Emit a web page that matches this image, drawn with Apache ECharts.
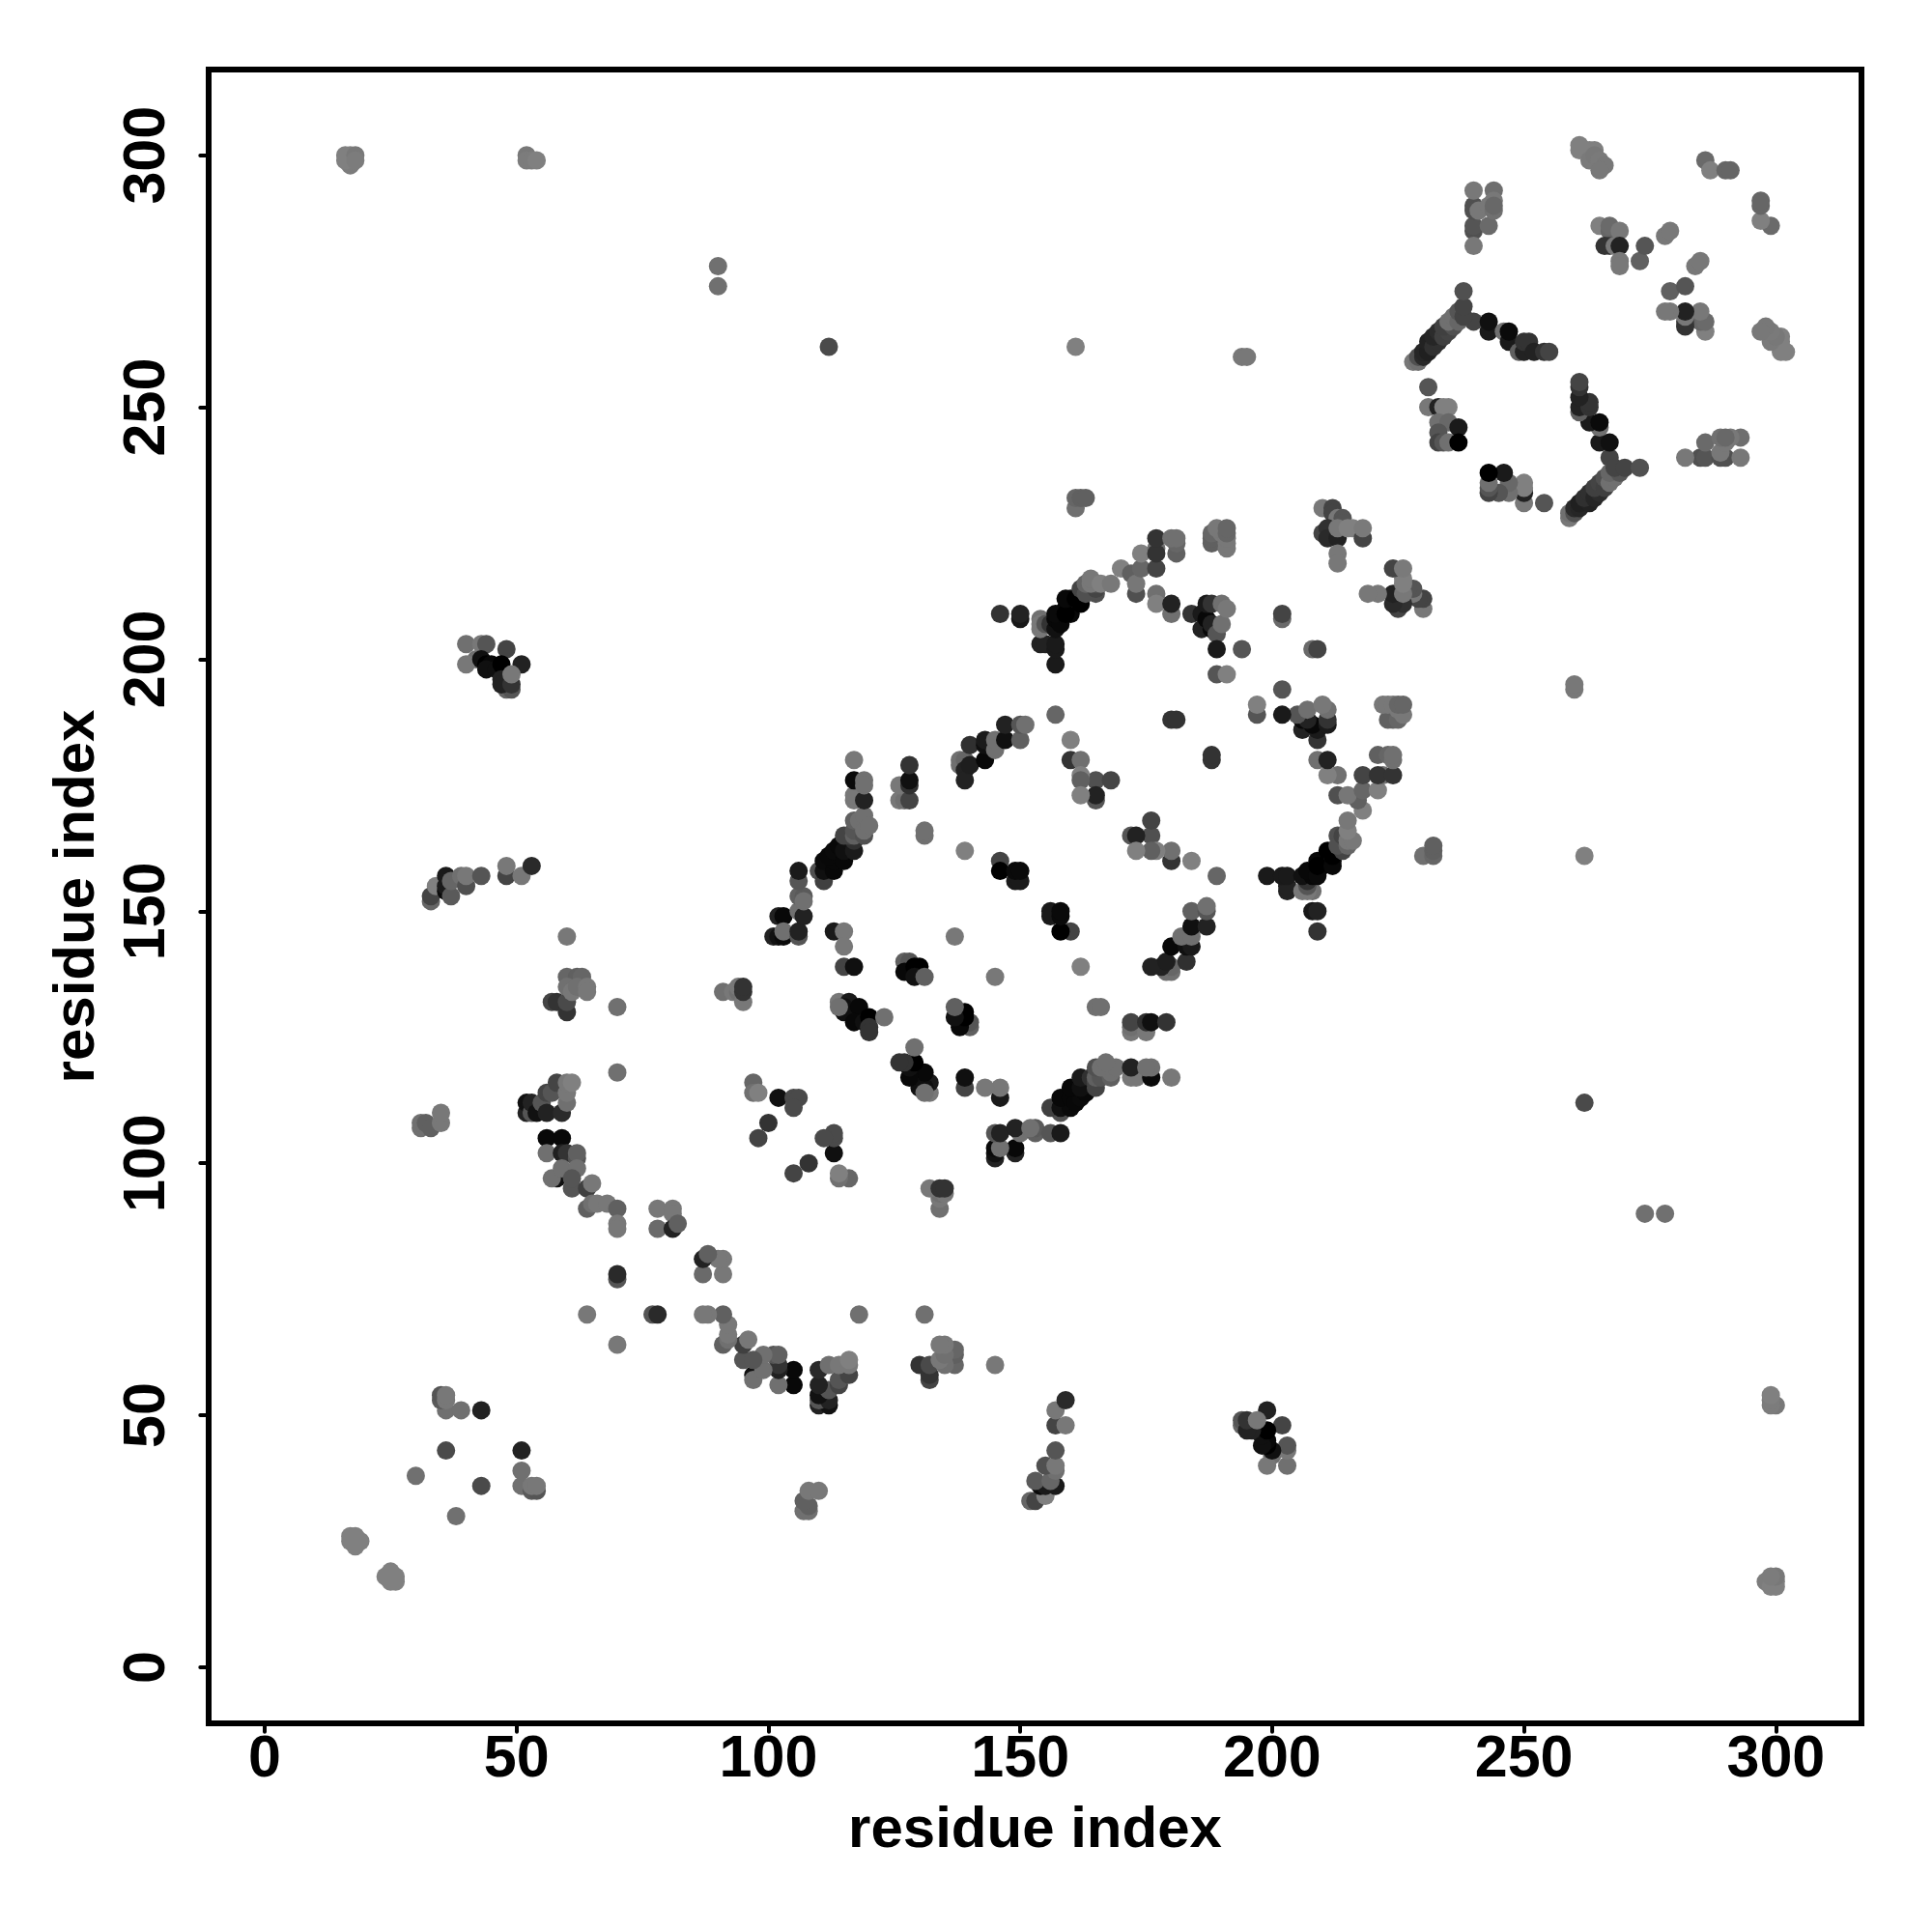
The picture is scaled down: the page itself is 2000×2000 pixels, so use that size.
<!DOCTYPE html>
<html>
<head>
<meta charset="utf-8">
<style>html,body{margin:0;padding:0;background:#fff}#c{width:2000px;height:2000px}</style>
<script src="https://cdn.jsdelivr.net/npm/echarts@6/dist/echarts.min.js"></script>
</head>
<body>
<div id="c"></div>
<script>
// Each contact: [residue i, residue j, grey level]. Read from the upper triangle of the symmetric map.
const tickValues = [0, 50, 100, 150, 200, 250, 300];
const axisTitle = 'residue index';

const distantContacts = [
[17,298,0x7c],[16,299,0x80],[16,300,0x80],[17,300,0x80],[18,300,0x78],[18,299,0x7c],
[52,300,0x78],[52,299,0x7c],[53,299,0x7c],[54,299,0x80],[90,278,0x70],[90,274,0x70],
[112,262,0x4a],[161,262,0x80],[194,260,0x78],[195,260,0x78],[161,230,0x70],[161,232,0x66],[162,232,0x60],[163,232,0x60]
];
const terminalContacts = [
[17,26,0x80],[18,26,0x80],[17,25,0x80],[19,25,0x80],[18,24,0x80],[30,38,0x70],[36,43,0x4a],[43,51,0x22],
[36,51,0x70],[39,51,0x70],[35,53,0x5a],[35,54,0x55],[36,53,0x78],[36,54,0x78],
[31,107,0x70],[31,108,0x70],[32,108,0x60],[33,107,0x60],[35,108,0x78],[35,110,0x78]
];
const clusterA = [
[33,152,0x66],[33,153,0x44],[34,155,0x80],[36,154,0x0a],[36,155,0x1a],[36,157,0x1a],[37,153,0x5a],[37,156,0x66],
[39,157,0x70],[40,155,0x50],[40,157,0x78],[43,157,0x55],[48,157,0x44],[48,159,0x78],[51,157,0x78],[53,159,0x2a],
[42,200,0x70],[40,203,0x70],[40,199,0x78],[43,203,0x78],[44,203,0x55],[48,202,0x44],[51,199,0x22],[43,200,0x10],
[44,199,0x00],[45,199,0x08],[44,198,0x10],[46,198,0x10],[47,199,0x00],[47,196,0x22],[48,194,0x66],[49,194,0x55],
[47,195,0x22],[49,195,0x33],[49,197,0x78]
];
const clusterB = [
[60,145,0x78],[57,132,0x44],[58,132,0x33],[60,130,0x33],[60,132,0x4a],[60,137,0x66],[62,137,0x60],[63,137,0x66],
[60,135,0x70],[61,134,0x78],[62,135,0x70],[64,135,0x78],[64,134,0x78],[70,131,0x70],[70,118,0x70]
];
const lowerArc = [
[52,110,0x22],[52,112,0x11],[53,110,0x55],[53,112,0x22],[54,110,0x11],[55,112,0x55],[56,110,0x22],[56,114,0x44],
[57,114,0x55],[58,116,0x44],[59,110,0x2a],[60,112,0x70],[60,114,0x78],[60,116,0x78],[61,116,0x80],
[56,105,0x08],[59,105,0x08],[56,102,0x70],[59,102,0x20],[60,102,0x33],[62,101,0x55],[62,102,0x60],[58,97,0x10],[57,97,0x70],
[59,99,0x70],[62,99,0x70],[61,95,0x55],[61,97,0x55],[64,95,0x40],[65,96,0x78],[64,91,0x60],[65,92,0x70],[66,92,0x78],
[68,92,0x78],[70,91,0x60],[70,88,0x78],[70,87,0x78],[70,77,0x55],[70,78,0x2a],[64,70,0x78],
[78,87,0x6a],[78,91,0x78],[81,91,0x78],[81,90,0x78],[81,87,0x22],[82,88,0x60]
];
const middleContacts = [
[91,134,0x70],[93,134,0x78],[94,134,0x70],[94,135,0x78],[95,132,0x78],[95,134,0x33],[95,135,0x33],[97,116,0x66],[97,114,0x70],
[98,114,0x80],[102,113,0x10],[105,113,0x4a],[106,113,0x4a],[105,111,0x4a],[100,108,0x33],[98,105,0x44]
];
const helixEdge = [
[101,145,0x22],[102,145,0x11],[103,145,0x0a],[102,149,0x22],[103,149,0x08],[103,146,0x70],[106,145,0x55],[106,146,0x22],
[106,150,0x70],[107,149,0x22],[106,153,0x60],[107,153,0x5a],[107,152,0x70],[106,156,0x55],[106,158,0x1a],
[110,158,0x50],[111,156,0x40],[111,158,0x10],[111,160,0x0a],[113,158,0x08],[113,160,0x08],[112,161,0x08],[113,162,0x0a],
[115,160,0x08],[114,163,0x08],[116,163,0x1a],[115,162,0x10],[117,162,0x1a],[117,164,0x30],[116,165,0x44],[115,165,0x44],
[117,165,0x60],[118,167,0x60],[117,166,0x55],[117,168,0x60],[119,165,0x50],[118,168,0x70],[119,169,0x70],[119,166,0x70],[120,167,0x70],
[117,172,0x78],[117,173,0x78],[119,172,0x22],[117,176,0x0a],[119,176,0x70],[119,175,0x70],[117,180,0x78],
[126,172,0x78],[127,172,0x70],[126,175,0x78],[128,172,0x44],[128,175,0x30],[128,176,0x10],[128,179,0x33],[131,165,0x70],[131,166,0x70],[139,162,0x80]
];
const upperEdge = [
[138,179,0x70],[138,180,0x70],[139,180,0x66],[139,178,0x22],[139,176,0x22],[140,179,0x1e],[140,183,0x30],[143,180,0x08],
[143,183,0x10],[143,184,0x1a],[145,182,0x70],[145,184,0x70],[147,184,0x10],[147,187,0x22],[150,184,0x60],[150,187,0x55],[151,187,0x70],
[137,145,0x78],[146,160,0x44],[146,158,0x00],[149,156,0x1a],[150,156,0x1a],[149,158,0x0a],[150,158,0x0a]
];
const innerRing = [
[114,132,0x78],[116,132,0x1a],[115,131,0x10],[115,130,0x10],[114,131,0x70],[118,131,0x08],[117,128,0x08],[119,128,0x10],
[120,129,0x00],[120,127,0x33],[120,126,0x33],[123,129,0x70],
[127,140,0x60],[128,140,0x55],[127,138,0x08],[129,139,0x00],[130,139,0x00],[129,137,0x11],[131,137,0x60],
[113,146,0x1a],[115,146,0x78],[115,143,0x78],[115,139,0x44],[117,139,0x10]
];
const outerArc = [
[157,199,0x1a],[154,203,0x22],[155,203,0x22],[157,202,0x1a],[157,203,0x1a],[146,209,0x33],[150,208,0x18],[150,209,0x22],
[154,206,0x78],[154,208,0x70],[154,207,0x78],[155,207,0x55],[156,207,0x33],[157,206,0x11],[157,208,0x08],[158,207,0x08],
[160,209,0x08],[159,210,0x00],[162,211,0x00],[160,212,0x1a],[157,209,0x0a],[159,209,0x00],[159,212,0x08],[161,212,0x00],
[162,214,0x44],[165,213,0x50],[163,213,0x50],[165,214,0x44],[163,215,0x66],[165,215,0x55],[164,215,0x78],[164,216,0x78],[166,215,0x80],[168,215,0x78],
[170,218,0x80],[172,217,0x60],[173,213,0x50],[173,215,0x77],[174,218,0x66],[174,221,0x80],[177,218,0x44],[177,213,0x70],[177,211,0x80],
[177,222,0x70],[177,221,0x33],[177,224,0x33],[180,209,0x70],[180,211,0x22],[184,209,0x33],
[181,221,0x60],[181,223,0x66],[180,224,0x70],[181,224,0x70],
[188,223,0x60],[188,224,0x60],[188,225,0x66],[190,225,0x78],[189,226,0x78],[191,222,0x78],[191,223,0x78],[191,224,0x78],[191,225,0x66],[191,226,0x66],
[186,209,0x1a],[186,206,0x22],[187,208,0x08],[187,211,0x1a],[188,206,0x08],[188,207,0x22],[188,211,0x33],[189,205,0x55],[190,207,0x70],[190,211,0x70],[191,210,0x78],
[189,202,0x1a],[194,202,0x55],[189,197,0x55],[191,197,0x80],[202,208,0x6a],[202,209,0x44],
[210,230,0x78],[212,230,0x44],[212,229,0x44],[213,228,0x78],[214,228,0x55],[214,227,0x55],[212,225,0x55],[210,225,0x44],[211,226,0x30],[211,224,0x2a],[213,224,0x22],
[213,226,0x78],[213,221,0x78],[213,219,0x78],[215,226,0x80],[216,226,0x80],[218,224,0x44],[218,226,0x7a]
];
const crossContacts = [
[160,184,0x80],[157,189,0x66],[160,180,0x33],[162,180,0x70],[165,176,0x50],[165,172,0x55],[165,173,0x22],[162,177,0x80],
[162,176,0x60],[162,173,0x80],[168,176,0x44],[180,188,0x33],[181,188,0x33]
];
const loopContacts = [
[231,254,0x55],[231,250,0x78],[233,250,0x22],[235,250,0x80],[234,250,0x80],[233,247,0x70],[235,247,0x68],[237,246,0x1a],
[233,245,0x55],[233,243,0x44],[234,243,0x55],[235,243,0x70],[237,243,0x00],
[240,267,0x44],[243,265,0x1a],[243,267,0x10],[246,265,0x70],[247,263,0x1a],[247,265,0x0a],[249,261,0x60],[250,261,0x22],
[250,263,0x33],[251,263,0x33],[252,261,0x22],[254,261,0x33],[255,261,0x44],
[228,259,0x78],[229,259,0x70],[229,260,0x50],[230,260,0x2a],[230,261,0x26],[231,261,0x20],[231,263,0x22],[232,262,0x30],
[233,263,0x30],[232,264,0x26],[233,265,0x2c],[234,264,0x40],[235,265,0x44],[234,266,0x40],
[236,266,0x50],[235,267,0x70],[236,268,0x70],[237,267,0x66],[237,269,0x55],[238,268,0x44],[238,270,0x44],[238,273,0x50]
];
const topRightContacts = [
[240,285,0x50],[240,286,0x55],[240,290,0x50],[240,289,0x50],[240,293,0x78],[240,282,0x78],[244,293,0x6e],[243,286,0x6a],
[241,289,0x78],[243,290,0x78],[244,291,0x78],[244,289,0x70],[244,290,0x68],
[261,301,0x80],[261,302,0x80],[262,301,0x80],[263,301,0x80],[264,301,0x80],[263,299,0x7a],[264,300,0x78],[265,299,0x7a],[266,298,0x78],[265,297,0x78],
[286,299,0x6a],[287,297,0x80],[290,297,0x66],[291,297,0x66],
[265,286,0x80],[267,285,0x66],[267,286,0x6a],[269,285,0x78],[267,282,0x44],[266,282,0x33],[268,282,0x78],[269,282,0x22],
[269,279,0x78],[269,278,0x78],[273,279,0x60],[274,282,0x55],[278,284,0x78],[279,285,0x78]
];

const upperTriangle = [].concat(distantContacts, terminalContacts, clusterA, clusterB, lowerArc, middleContacts,
  helixEdge, upperEdge, innerRing, outerArc, crossContacts, loopContacts, topRightContacts);
// The contact map is symmetric: every read pair appears at (i,j) and (j,i).
const points = [];
upperTriangle.forEach(p => { points.push([p[0], p[1], p[2]]); });
upperTriangle.forEach(p => { points.push([p[1], p[0], p[2]]); });

const FONT = '"Liberation Sans", Arial, sans-serif';
const axisBase = {
  type: 'value', min: -11.12, max: 317, splitLine: {show: false},
  axisLine: {show: false, onZero: false},
  axisTick: {show: true, customValues: tickValues, length: 8.7, inside: false, lineStyle: {color: '#000', width: 4, cap: 'round'}},
  name: axisTitle, nameLocation: 'middle',
  nameTextStyle: {fontFamily: FONT, fontWeight: 'bold', fontSize: 60, color: '#000'}
};
const chart = echarts.init(document.getElementById('c'), null, {renderer: 'canvas', width: 2000, height: 2000});
chart.setOption({
  animation: false,
  backgroundColor: '#fff',
  grid: {left: 216, top: 72, width: 1711, height: 1712, show: true, borderColor: '#000', borderWidth: 6, backgroundColor: 'transparent', containLabel: false},
  xAxis: Object.assign({}, axisBase, {
    nameGap: 81,
    axisLabel: {customValues: tickValues, margin: 8, fontFamily: FONT, fontWeight: 'bold', fontSize: 61, color: '#000', hideOverlap: false, showMinLabel: true, showMaxLabel: true}
  }),
  yAxis: Object.assign({}, axisBase, {
    nameGap: 106,
    axisLabel: {customValues: tickValues, rotate: 90, margin: 32, fontFamily: FONT, fontWeight: 'bold', fontSize: 61, color: '#000', hideOverlap: false, showMinLabel: true, showMaxLabel: true}
  }),
  series: [{
    type: 'scatter', data: points, symbol: 'circle', symbolSize: 19, silent: true,
    itemStyle: {opacity: 1, color: p => { const g = p.value[2]; return 'rgb(' + g + ',' + g + ',' + g + ')'; }}
  }]
});
</script>
</body>
</html>
